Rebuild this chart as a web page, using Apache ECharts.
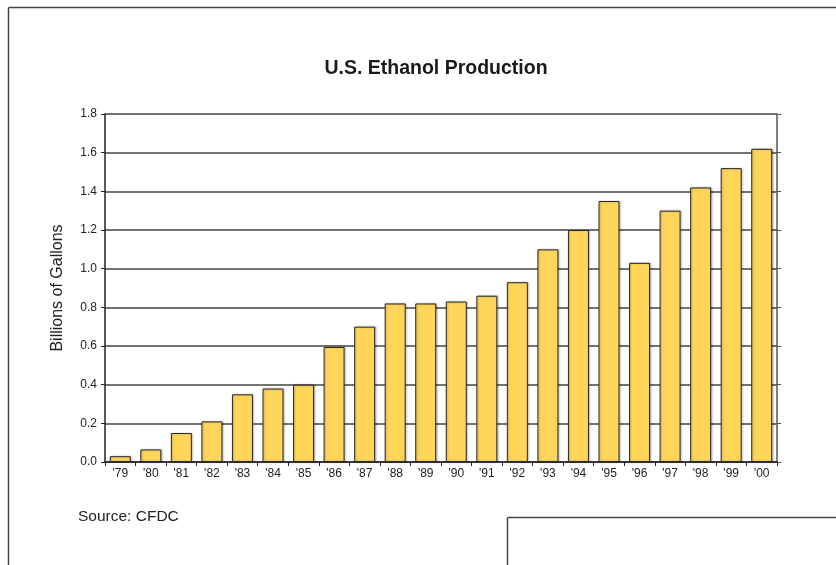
<!DOCTYPE html>
<html><head><meta charset="utf-8">
<script src="https://cdn.jsdelivr.net/npm/echarts@6/dist/echarts.min.js"></script>
<style>html,body{margin:0;padding:0;background:#fff}#c{width:836px;height:565px}</style>
</head><body><div id="c"></div>
<script>
const categories = ["'79","'80","'81","'82","'83","'84","'85","'86","'87","'88","'89","'90","'91","'92","'93","'94","'95","'96","'97","'98","'99","'00"];
const production = [0.03,0.065,0.15,0.21,0.35,0.38,0.40,0.595,0.70,0.82,0.82,0.83,0.86,0.93,1.10,1.20,1.35,1.03,1.30,1.42,1.52,1.62];
const yTicks = {min:0, max:1.8, interval:0.2};

const chart = echarts.init(document.getElementById('c'), null, {renderer:'canvas'});
chart.setOption({
  animation:false,
  backgroundColor:'#fff',
  grid:{left:105, right:59, top:114, bottom:103},
  xAxis:{type:'category', data:categories,
    axisLine:{lineStyle:{color:'#222', width:1.5}},
    axisTick:{show:true, alignWithLabel:false, length:4, lineStyle:{color:'#222'}},
    axisLabel:{color:'#222', fontSize:12, fontFamily:'"Liberation Sans",Arial,sans-serif', margin:6}},
  yAxis:[{type:'value', min:yTicks.min, max:yTicks.max, interval:yTicks.interval,
    axisLine:{show:true, lineStyle:{color:'#222', width:1.5}},
    axisTick:{show:true, length:4, lineStyle:{color:'#222'}},
    splitLine:{lineStyle:{color:'#444', width:1.5}},
    axisLabel:{color:'#222', fontSize:12, fontFamily:'"Liberation Sans",Arial,sans-serif', margin:8, formatter:v=>v.toFixed(1)},
    name:'Billions of Gallons', nameLocation:'middle', nameGap:39, nameRotate:90,
    nameTextStyle:{color:'#222', fontSize:16, fontFamily:'"Liberation Sans",Arial,sans-serif'}},
   {type:'value', position:'right', min:yTicks.min, max:yTicks.max, interval:yTicks.interval,
    axisLine:{show:true, lineStyle:{color:'#555', width:1.5}},
    axisTick:{show:true, length:4, lineStyle:{color:'#555'}},
    splitLine:{show:false}, axisLabel:{show:false}}],
  series:[{type:'bar', data:production, barWidth:21, yAxisIndex:0,
    itemStyle:{color:'#FFD55A', borderColor:'#2a2a2a', borderWidth:1,
      shadowColor:'rgba(0,0,0,0.25)', shadowBlur:2, shadowOffsetX:1, shadowOffsetY:0}}],
  graphic:[
    {type:'text', x:436, y:69, style:{text:'U.S. Ethanol Production', align:'center', verticalAlign:'middle',
      fontSize:19.5, fontWeight:'bold', fill:'#1a1a1a', fontFamily:'"Liberation Sans",Arial,sans-serif'}},
    {type:'text', x:78, y:517, style:{text:'Source: CFDC', verticalAlign:'middle', fontSize:15.5, fill:'#222', fontFamily:'"Liberation Sans",Arial,sans-serif'}},
    {type:'line', shape:{x1:8.5, y1:7.5, x2:836, y2:7.5}, style:{stroke:'#444', lineWidth:1.5}},
    {type:'line', shape:{x1:8.5, y1:7.5, x2:8.5, y2:565}, style:{stroke:'#444', lineWidth:1.5}},
    {type:'line', shape:{x1:507.5, y1:517.5, x2:836, y2:517.5}, style:{stroke:'#444', lineWidth:1.5}},
    {type:'line', shape:{x1:507.5, y1:517.5, x2:507.5, y2:565}, style:{stroke:'#444', lineWidth:1.5}}
  ]
});
</script></body></html>
